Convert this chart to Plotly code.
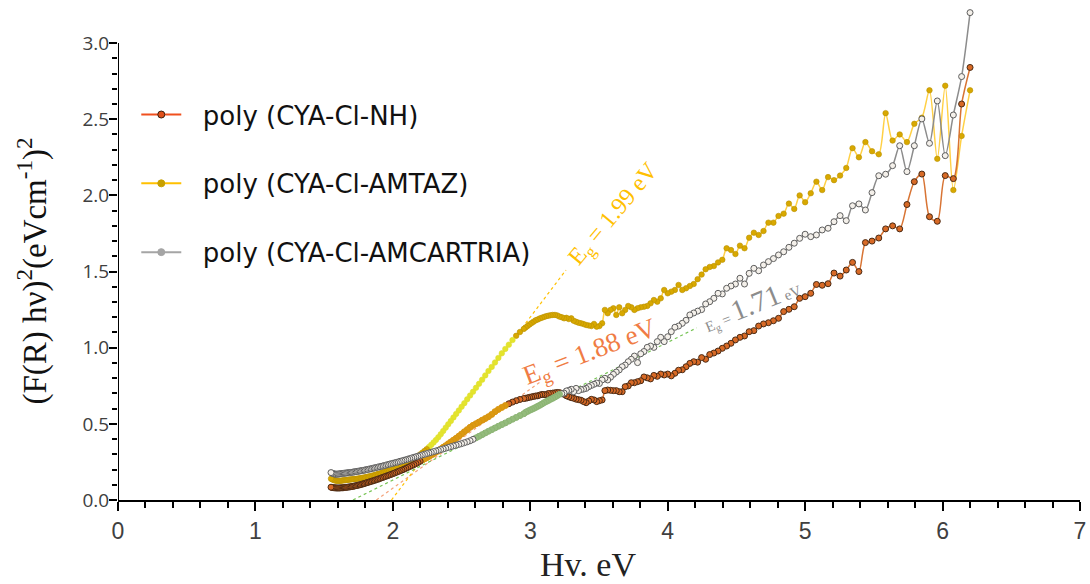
import plotly.graph_objects as go

# Measurement grid: 2 nm steps in the UV, 4 nm steps in the visible
wavelength_nm = list(range(200, 420, 2)) + list(range(420, 801, 4))
hv_ev = [1240.0 / w for w in wavelength_nm]

# (F(R) hv)^2 for poly (CYA-Cl-NH), ordered by wavelength 200 -> 800 nm
y_nh = [
    2.84, 2.60, 2.11, 2.13, 1.83, 1.86, 2.14, 2.09, 1.94, 1.78,
    1.80, 1.78, 1.72, 1.70, 1.69, 1.50, 1.56, 1.51, 1.47, 1.49,
    1.42, 1.41, 1.415, 1.357, 1.335, 1.324, 1.269, 1.252, 1.237, 1.193,
    1.177, 1.164, 1.156, 1.142, 1.112, 1.105, 1.077, 1.068, 1.051, 1.029,
    1.011, 0.996, 0.978, 0.965, 0.955, 0.924, 0.935, 0.905, 0.908, 0.897,
    0.875, 0.855, 0.852, 0.832, 0.815, 0.827, 0.821, 0.827, 0.812, 0.818,
    0.795, 0.802, 0.808, 0.783, 0.777, 0.770, 0.770, 0.749, 0.744, 0.711,
    0.711, 0.718, 0.718, 0.720, 0.722, 0.718, 0.657, 0.652, 0.646, 0.657,
    0.661, 0.650, 0.639, 0.646, 0.655, 0.659, 0.662, 0.668, 0.672, 0.678,
    0.684, 0.694, 0.700, 0.705, 0.706, 0.704, 0.702, 0.700, 0.699, 0.692,
    0.692, 0.693, 0.689, 0.684, 0.683, 0.680, 0.677, 0.674, 0.671, 0.668,
    0.666, 0.660, 0.652, 0.643, 0.632, 0.620, 0.608, 0.595, 0.580, 0.562,
    0.547, 0.535, 0.524, 0.512, 0.501, 0.490, 0.477, 0.462, 0.448, 0.433,
    0.419, 0.405, 0.393, 0.381, 0.369, 0.357, 0.346, 0.335, 0.324, 0.314,
    0.304, 0.295, 0.286, 0.278, 0.270, 0.262, 0.254, 0.246, 0.239, 0.232,
    0.226, 0.220, 0.214, 0.208, 0.202, 0.197, 0.192, 0.187, 0.182, 0.177,
    0.173, 0.168, 0.164, 0.160, 0.156, 0.152, 0.148, 0.144, 0.140, 0.136,
    0.133, 0.129, 0.126, 0.123, 0.120, 0.117, 0.114, 0.111, 0.108, 0.105,
    0.103, 0.100, 0.098, 0.096, 0.094, 0.092, 0.090, 0.089, 0.087, 0.086,
    0.085, 0.084, 0.083, 0.082, 0.081, 0.080, 0.080, 0.079, 0.079, 0.079,
    0.079, 0.080, 0.080, 0.081, 0.082, 0.084,
]

# (F(R) hv)^2 for poly (CYA-Cl-AMTAZ)
y_amtaz = [
    2.69, 2.39, 2.035, 2.72, 2.24, 2.69, 2.51, 2.47, 2.35, 2.40,
    2.36, 2.54, 2.27, 2.29, 2.35, 2.25, 2.31, 2.18, 2.13, 2.10,
    2.12, 2.035, 2.09, 2.014, 1.955, 2.00, 1.911, 1.946, 1.88, 1.865,
    1.821, 1.821, 1.766, 1.740, 1.755, 1.722, 1.653, 1.670, 1.615, 1.641,
    1.653, 1.577, 1.56, 1.536, 1.53, 1.515, 1.48, 1.45, 1.418, 1.405,
    1.390, 1.379, 1.412, 1.379, 1.368, 1.357, 1.379, 1.324, 1.302, 1.313,
    1.291, 1.274, 1.269, 1.265, 1.259, 1.248, 1.265, 1.274, 1.248, 1.226,
    1.265, 1.215, 1.259, 1.248, 1.226, 1.248, 1.160, 1.142, 1.138, 1.156,
    1.142, 1.146, 1.149, 1.155, 1.160, 1.164, 1.170, 1.177, 1.193, 1.188,
    1.196, 1.193, 1.200, 1.204, 1.212, 1.215, 1.215, 1.213, 1.210, 1.207,
    1.202, 1.197, 1.192, 1.185, 1.180, 1.171, 1.162, 1.153, 1.143, 1.133,
    1.123, 1.103, 1.078, 1.050, 1.020, 0.992, 0.963, 0.933, 0.903, 0.874,
    0.847, 0.818, 0.790, 0.763, 0.737, 0.711, 0.686, 0.661, 0.636, 0.612,
    0.588, 0.565, 0.542, 0.519, 0.497, 0.475, 0.453, 0.432, 0.412, 0.394,
    0.378, 0.362, 0.348, 0.334, 0.322, 0.310, 0.299, 0.289, 0.280, 0.272,
    0.264, 0.257, 0.250, 0.244, 0.238, 0.232, 0.226, 0.221, 0.216, 0.211,
    0.206, 0.201, 0.197, 0.192, 0.188, 0.184, 0.180, 0.176, 0.173, 0.170,
    0.167, 0.164, 0.161, 0.158, 0.156, 0.154, 0.152, 0.150, 0.148, 0.146,
    0.144, 0.143, 0.141, 0.140, 0.139, 0.138, 0.137, 0.136, 0.135, 0.134,
    0.133, 0.132, 0.131, 0.130, 0.129, 0.128, 0.127, 0.126, 0.126, 0.126,
    0.127, 0.128, 0.130, 0.133, 0.136, 0.140,
]

# (F(R) hv)^2 for poly (CYA-Cl-AMCARTRIA)
y_amcartria = [
    3.20, 2.78, 2.528, 2.261, 2.62, 2.342, 2.502, 2.326, 2.156, 2.326,
    2.195, 2.139, 2.129, 2.018, 1.904, 1.944, 1.932, 1.834, 1.867, 1.827,
    1.784, 1.773, 1.740, 1.729, 1.745, 1.718, 1.686, 1.659, 1.630, 1.609,
    1.585, 1.565, 1.543, 1.505, 1.521, 1.488, 1.418, 1.456, 1.418, 1.405,
    1.390, 1.353, 1.357, 1.324, 1.302, 1.287, 1.250, 1.240, 1.228, 1.215,
    1.180, 1.160, 1.142, 1.134, 1.105, 1.072, 1.040, 1.068, 1.040, 1.002,
    1.011, 1.002, 0.975, 0.960, 0.902, 0.945, 0.924, 0.908, 0.886, 0.875,
    0.854, 0.840, 0.825, 0.806, 0.788, 0.799, 0.788, 0.765, 0.768, 0.760,
    0.752, 0.744, 0.733, 0.728, 0.725, 0.718, 0.733, 0.711, 0.727, 0.720,
    0.716, 0.702, 0.698, 0.694, 0.685, 0.676, 0.668, 0.661, 0.653, 0.646,
    0.639, 0.630, 0.622, 0.615, 0.608, 0.601, 0.595, 0.589, 0.582, 0.576,
    0.566, 0.554, 0.542, 0.530, 0.518, 0.506, 0.495, 0.484, 0.473, 0.462,
    0.451, 0.440, 0.429, 0.418, 0.408, 0.398, 0.389, 0.382, 0.376, 0.370,
    0.365, 0.360, 0.355, 0.350, 0.345, 0.340, 0.335, 0.331, 0.326, 0.322,
    0.318, 0.313, 0.309, 0.305, 0.300, 0.296, 0.292, 0.288, 0.284, 0.280,
    0.276, 0.272, 0.268, 0.264, 0.261, 0.257, 0.254, 0.250, 0.247, 0.244,
    0.241, 0.238, 0.235, 0.232, 0.229, 0.226, 0.223, 0.221, 0.218, 0.216,
    0.213, 0.211, 0.209, 0.206, 0.204, 0.202, 0.200, 0.198, 0.196, 0.194,
    0.193, 0.191, 0.189, 0.188, 0.186, 0.185, 0.184, 0.182, 0.181, 0.180,
    0.179, 0.178, 0.177, 0.176, 0.175, 0.174, 0.173, 0.172, 0.171, 0.170,
    0.170, 0.170, 0.171, 0.173, 0.176, 0.180,
]

series_names = ["poly (CYA-Cl-NH)", "poly (CYA-Cl-AMTAZ)", "poly (CYA-Cl-AMCARTRIA)"]

# y-axis ticks (the axis itself stops at 3.0; data may run above it)
y_major = [0.0, 0.5, 1.0, 1.5, 2.0, 2.5, 3.0]
y_minor = [0.1, 0.2, 0.3, 0.4, 0.6, 0.7, 0.8, 0.9, 1.1, 1.2, 1.3, 1.4,
           1.6, 1.7, 1.8, 1.9, 2.1, 2.2, 2.3, 2.4, 2.6, 2.7, 2.8, 2.9]
y_axis_top = 3.0

# Linear (Tauc) fits: band gap intercept and the upper end of each fitted line
fit_eg = [1.88, 1.99, 1.71]
fit_end_x = [3.08, 3.26, 4.21]
fit_end_y = [0.78, 1.51, 1.13]
# energy windows used for the fits (highlighted points)
fit_window = [(2.20, 2.83), (2.25, 2.88), (2.60, 3.22)]

# label positions for the band-gap annotations
label_x = [3.44, 3.61, 4.61]
label_y = [0.965, 1.87, 1.29]

fit_colors = ["#f4a47c", "#ffc000", "#78c456"]

SERIF = "Liberation Serif, Times New Roman, serif"


def window_colors(ev, window, inside, outside):
    lo, hi = window
    return [inside if lo <= e <= hi else outside for e in ev]


fig = go.Figure()

# dotted fit lines underneath the data
for eg, xe, ye, col in zip(fit_eg, fit_end_x, fit_end_y, fit_colors):
    fig.add_trace(go.Scatter(
        x=[eg, xe], y=[0, ye], mode="lines",
        line=dict(color=col, width=1.2, dash="dot"),
        showlegend=False, hoverinfo="skip",
    ))

# poly (CYA-Cl-AMTAZ)
fig.add_trace(go.Scatter(
    x=hv_ev, y=y_amtaz, mode="lines+markers", showlegend=False, cliponaxis=False,
    line=dict(color="#ffd045", width=1.5, shape="spline", smoothing=0.8),
    marker=dict(
        size=5.5,
        color=window_colors(hv_ev, fit_window[1], "#e4e42c", "#d8a800"),
        line=dict(width=0.6, color=window_colors(hv_ev, fit_window[1], "#dede30", "#b89000")),
    ),
))

# poly (CYA-Cl-NH)
fig.add_trace(go.Scatter(
    x=hv_ev, y=y_nh, mode="lines+markers", showlegend=False, cliponaxis=False,
    line=dict(color="#d87434", width=1.5, shape="spline", smoothing=0.8),
    marker=dict(
        size=6,
        color=window_colors(hv_ev, fit_window[0], "#dc9a10", "#d86a26"),
        line=dict(width=1, color=window_colors(hv_ev, fit_window[0], "#d89410", "#4a2a14")),
    ),
))

# poly (CYA-Cl-AMCARTRIA)
fig.add_trace(go.Scatter(
    x=hv_ev, y=y_amcartria, mode="lines+markers", showlegend=False, cliponaxis=False,
    line=dict(color="#8c8c8c", width=1.5, shape="spline", smoothing=0.8),
    marker=dict(
        size=6,
        color=window_colors(hv_ev, fit_window[2], "#94bc7c", "#f4f0ea"),
        line=dict(width=1, color=window_colors(hv_ev, fit_window[2], "#8cb474", "#5e5e5e")),
    ),
))

# legend entries
legend_styles = [
    dict(line="#f0501e", fill="#e0501a", edge="#3a2010"),
    dict(line="#ffc000", fill="#c8a000", edge="#c8a000"),
    dict(line="#a5a5a5", fill="#a5a5a5", edge="#a5a5a5"),
]
for i, (name, st) in enumerate(zip(series_names, legend_styles)):
    fig.add_trace(go.Scatter(
        x=[None], y=[None], mode="lines+markers", name="\u00a0\u00a0" + name,
        legendgroup=f"g{i}",
        line=dict(color=st["line"], width=2),
        marker=dict(size=7, color=st["fill"], line=dict(width=1, color=st["edge"])),
    ))

# vertical axis line, ending at the top tick
fig.add_shape(type="line", xref="x", yref="y", x0=0, x1=0, y0=0, y1=y_axis_top,
              line=dict(color="black", width=2), layer="above")

# band-gap labels
fig.add_annotation(
    x=label_x[1], y=label_y[1], textangle=-50, showarrow=False,
    text=f"E<sub>g</sub> = {fit_eg[1]:.2f} eV",
    font=dict(family=SERIF, size=24, color="#ffc000"),
)
fig.add_annotation(
    x=label_x[0], y=label_y[0], textangle=-21, showarrow=False,
    text=f"E<sub>g</sub> = {fit_eg[0]:.2f} eV",
    font=dict(family=SERIF, size=27, color="#f07c44"),
)
fig.add_annotation(
    x=label_x[2], y=label_y[2], textangle=-22, showarrow=False,
    text=(f"<span style='font-size:15px'>E<sub>g</sub> = </span>{fit_eg[2]:.2f}"
          "<span style='font-size:15px'> eV</span>"),
    font=dict(family=SERIF, size=29, color="#8c8c8c"),
)

# axis titles
fig.add_annotation(
    xref="paper", x=0, xshift=-85, yref="y", y=y_axis_top / 2, textangle=-90,
    showarrow=False, xanchor="center", yanchor="middle",
    text="(F(R) hν)<sup>2</sup>(eVcm<sup>-1</sup>)<sup>2</sup>",
    font=dict(family=SERIF, size=33, color="#111111"),
)
fig.add_annotation(
    xref="x", x=3.42, yref="paper", y=0, yshift=-64, showarrow=False,
    xanchor="center", yanchor="middle", text="Hv. eV",
    font=dict(family=SERIF, size=34, color="#222222"),
)

fig.update_layout(
    width=1090, height=584,
    margin=dict(l=118, r=10, t=5, b=84),
    paper_bgcolor="white", plot_bgcolor="white",
    showlegend=True,
    legend=dict(
        x=0.019, y=0.826, xanchor="left", yanchor="top",
        font=dict(family="DejaVu Sans, sans-serif", size=26, color="#111111"),
        tracegroupgap=32, itemwidth=40, bgcolor="rgba(0,0,0,0)",
    ),
    xaxis=dict(
        range=[0, 7], dtick=1, tick0=0,
        showline=True, linecolor="black", linewidth=2,
        ticks="outside", ticklen=9, tickwidth=2, tickcolor="black",
        minor=dict(dtick=0.2, ticks="outside", ticklen=6, tickwidth=1.5, tickcolor="black"),
        showgrid=False, zeroline=False, automargin=False,
        tickfont=dict(family="Liberation Sans Narrow, Arial Narrow, sans-serif", size=23, color="#404040"),
    ),
    yaxis=dict(
        range=[0, 3.25], tickmode="array", tickvals=y_major,
        ticktext=[f"{v:.1f}" for v in y_major],
        showline=False,
        ticks="outside", ticklen=8, tickwidth=2, tickcolor="black",
        minor=dict(tickmode="array", tickvals=y_minor, ticks="outside",
                   ticklen=5, tickwidth=1.5, tickcolor="black"),
        showgrid=False, zeroline=False, automargin=False,
        ticklabelstandoff=-4,
        tickfont=dict(family="Open Sans, sans-serif", size=19, color="#404040"),
    ),
)

fig.write_html("out.html")
